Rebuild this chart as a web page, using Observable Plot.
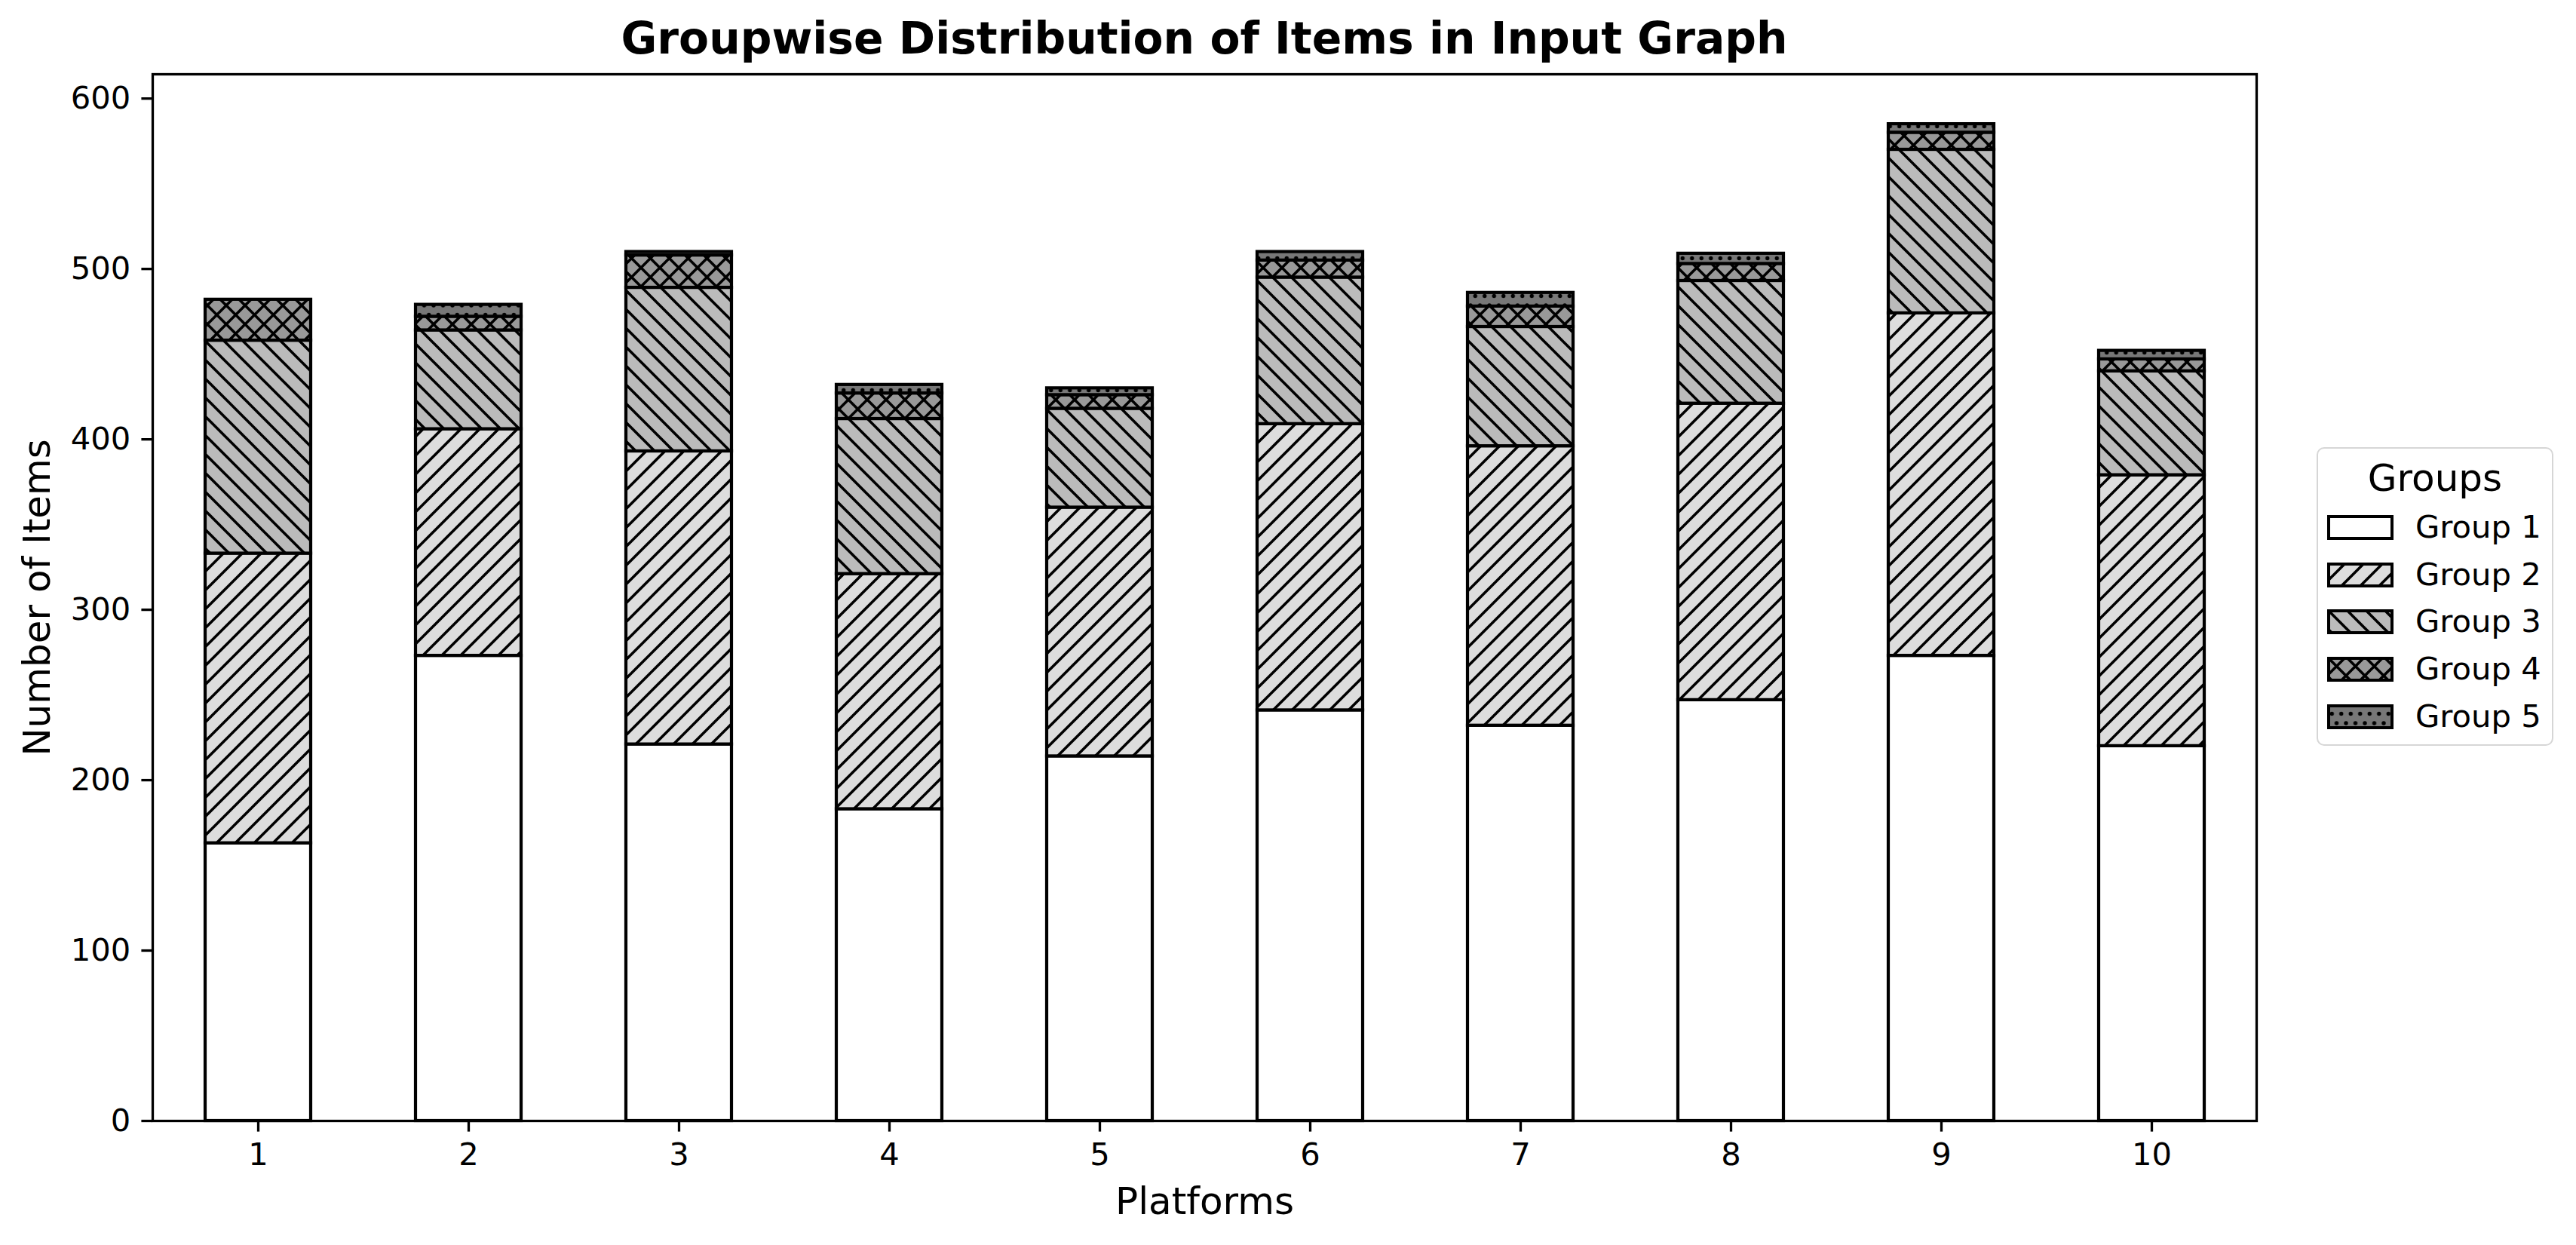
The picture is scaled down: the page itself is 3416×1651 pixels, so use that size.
<!DOCTYPE html>
<html>
<head>
<meta charset="utf-8">
<script src="https://cdn.jsdelivr.net/npm/d3@7"></script>
<script src="https://cdn.jsdelivr.net/npm/@observablehq/plot@0.6"></script>
<style>
  html, body { margin: 0; padding: 0; background: white; }
  body { font-family: "DejaVu Sans", sans-serif; color: black; }
  #page { position: relative; width: 3416px; height: 1651px; overflow: hidden; background: white; }
  #title { height: 58px; padding-top: 22px; margin-left: 202px; width: 2790px; text-align: center;
           font-size: 58.3px; line-height: 58px; font-weight: bold; white-space: nowrap; }
  #legend { position: absolute; left: 3072px; top: 593px; width: 314px; height: 396px; box-sizing: border-box;
            border: 2.5px solid #d6d6d6; border-radius: 10px; background: white; }
  #legend .lt { position: absolute; left: 0; width: 100%; top: 14px; text-align: center; font-size: 50px; line-height: 50px; }
  #legend .row { position: absolute; left: 0; width: 100%; height: 50px; }
  #legend .row svg { position: absolute; left: 12px; top: 9px; }
  #legend .row span { position: absolute; left: 129px; top: 0; font-size: 41.7px; line-height: 50px; white-space: nowrap; }
  #defs { position: absolute; left: 0; top: 0; width: 0; height: 0; }
</style>
</head>
<body>
<div id="page">
  <svg id="defs" width="0" height="0">
    <defs>
      <pattern id="hatch1" patternUnits="userSpaceOnUse" width="25" height="25">
        <rect width="25" height="25" fill="#ffffff"></rect>
      </pattern>
      <pattern id="hatch2" patternUnits="userSpaceOnUse" width="25" height="25">
        <rect width="25" height="25" fill="#dddddd"></rect>
        <path d="M0,25L25,0M-6.25,6.25L6.25,-6.25M18.75,31.25L31.25,18.75" stroke="black" stroke-width="3.6"></path>
      </pattern>
      <pattern id="hatch3" patternUnits="userSpaceOnUse" width="25" height="25">
        <rect width="25" height="25" fill="#bbbbbb"></rect>
        <path d="M0,0L25,25M-6.25,18.75L6.25,31.25M18.75,-6.25L31.25,6.25" stroke="black" stroke-width="3.6"></path>
      </pattern>
      <pattern id="hatch4" patternUnits="userSpaceOnUse" width="25" height="25">
        <rect width="25" height="25" fill="#999999"></rect>
        <path d="M0,25L25,0M-6.25,6.25L6.25,-6.25M18.75,31.25L31.25,18.75M0,0L25,25M-6.25,18.75L6.25,31.25M18.75,-6.25L31.25,6.25" stroke="black" stroke-width="3.6"></path>
      </pattern>
      <pattern id="hatch5" patternUnits="userSpaceOnUse" width="12.5" height="25">
        <rect width="12.5" height="25" fill="#777777"></rect>
        <circle cx="0" cy="0" r="2.7" fill="black"></circle>
        <circle cx="12.5" cy="0" r="2.7" fill="black"></circle>
        <circle cx="0" cy="25" r="2.7" fill="black"></circle>
        <circle cx="12.5" cy="25" r="2.7" fill="black"></circle>
        <circle cx="6.25" cy="12.5" r="2.7" fill="black"></circle>
      </pattern>
    </defs>
  </svg>
  <div id="title">Groupwise Distribution of Items in Input Graph</div>
  <div id="chart"></div>
  <div id="legend"></div>
</div>
<script>
// ---- data ----
const platforms = ["1", "2", "3", "4", "5", "6", "7", "8", "9", "10"];
const groups = ["Group 1", "Group 2", "Group 3", "Group 4", "Group 5"];
const group1 = [163, 273, 221, 183, 214, 241, 232, 247, 273, 220];
const group2 = [170, 133, 172, 138, 146, 168, 164, 174, 201, 159];
const group3 = [125, 58, 96, 91, 58, 86, 70, 72, 96, 61];
const group4 = [24, 8, 19, 15, 8, 10, 12, 10, 10, 7];
const group5 = [0, 7, 2, 5, 4, 5, 8, 6, 5, 5];
const yTicks = [0, 100, 200, 300, 400, 500, 600];
const fills = ["url(#hatch1)", "url(#hatch2)", "url(#hatch3)", "url(#hatch4)", "url(#hatch5)"];

const series = [group1, group2, group3, group4, group5];
const rows = [];
groups.forEach((g, gi) => platforms.forEach((p, pi) => rows.push({platform: p, group: g, value: series[gi][pi]})));
const totals = platforms.map((p, pi) => d3.sum(series, s => s[pi]));
const yMax = d3.max(totals) * 1.05;

const W = 3416, H = 1571;
const chart = Plot.plot({
  width: W,
  height: H,
  marginLeft: 202,
  marginRight: 424,
  marginTop: 18,
  marginBottom: 165,
  style: {fontFamily: "DejaVu Sans", fontSize: "41.7px", background: "white", color: "black", overflow: "visible"},
  x: {type: "band", domain: platforms, paddingInner: 0.5, paddingOuter: 0.25, label: null},
  y: {domain: [0, yMax], label: null},
  color: {domain: groups, range: fills},
  marks: [
    Plot.barY(rows, Plot.stackY({x: "platform", y: "value", fill: "group", order: groups, stroke: "black", strokeWidth: 4.2})),
    Plot.frame({stroke: "black", strokeWidth: 3.3}),
    Plot.axisX({tickSize: 14.6, tickPadding: 14.6, strokeWidth: 3.3, fontSize: 41.7, label: null}),
    Plot.axisY({ticks: yTicks, tickSize: 14.6, tickPadding: 14.6, strokeWidth: 3.3, fontSize: 41.7, label: null}),
    Plot.axisX({ticks: [], tickSize: 0, fontSize: 50, label: "Platforms", labelAnchor: "center", labelArrow: "none", labelOffset: 123}),
    Plot.axisY({ticks: [], tickSize: 0, fontSize: 50, label: "Number of Items", labelAnchor: "center", labelArrow: "none", labelOffset: 172})
  ]
});
document.getElementById("chart").appendChild(chart);

// ---- legend ----
const legend = document.getElementById("legend");
const lt = document.createElement("div");
lt.className = "lt";
lt.textContent = "Groups";
legend.appendChild(lt);
const rowCenters = [104, 167, 229, 292, 355];
groups.forEach((g, i) => {
  const row = document.createElement("div");
  row.className = "row";
  row.style.top = (rowCenters[i] - 25) + "px";
  row.innerHTML = `<svg width="88" height="33"><rect x="2" y="2" width="84" height="29" fill="${fills[i]}" stroke="black" stroke-width="4"></rect></svg><span>${g}</span>`;
  legend.appendChild(row);
});
</script>
</body>
</html>
